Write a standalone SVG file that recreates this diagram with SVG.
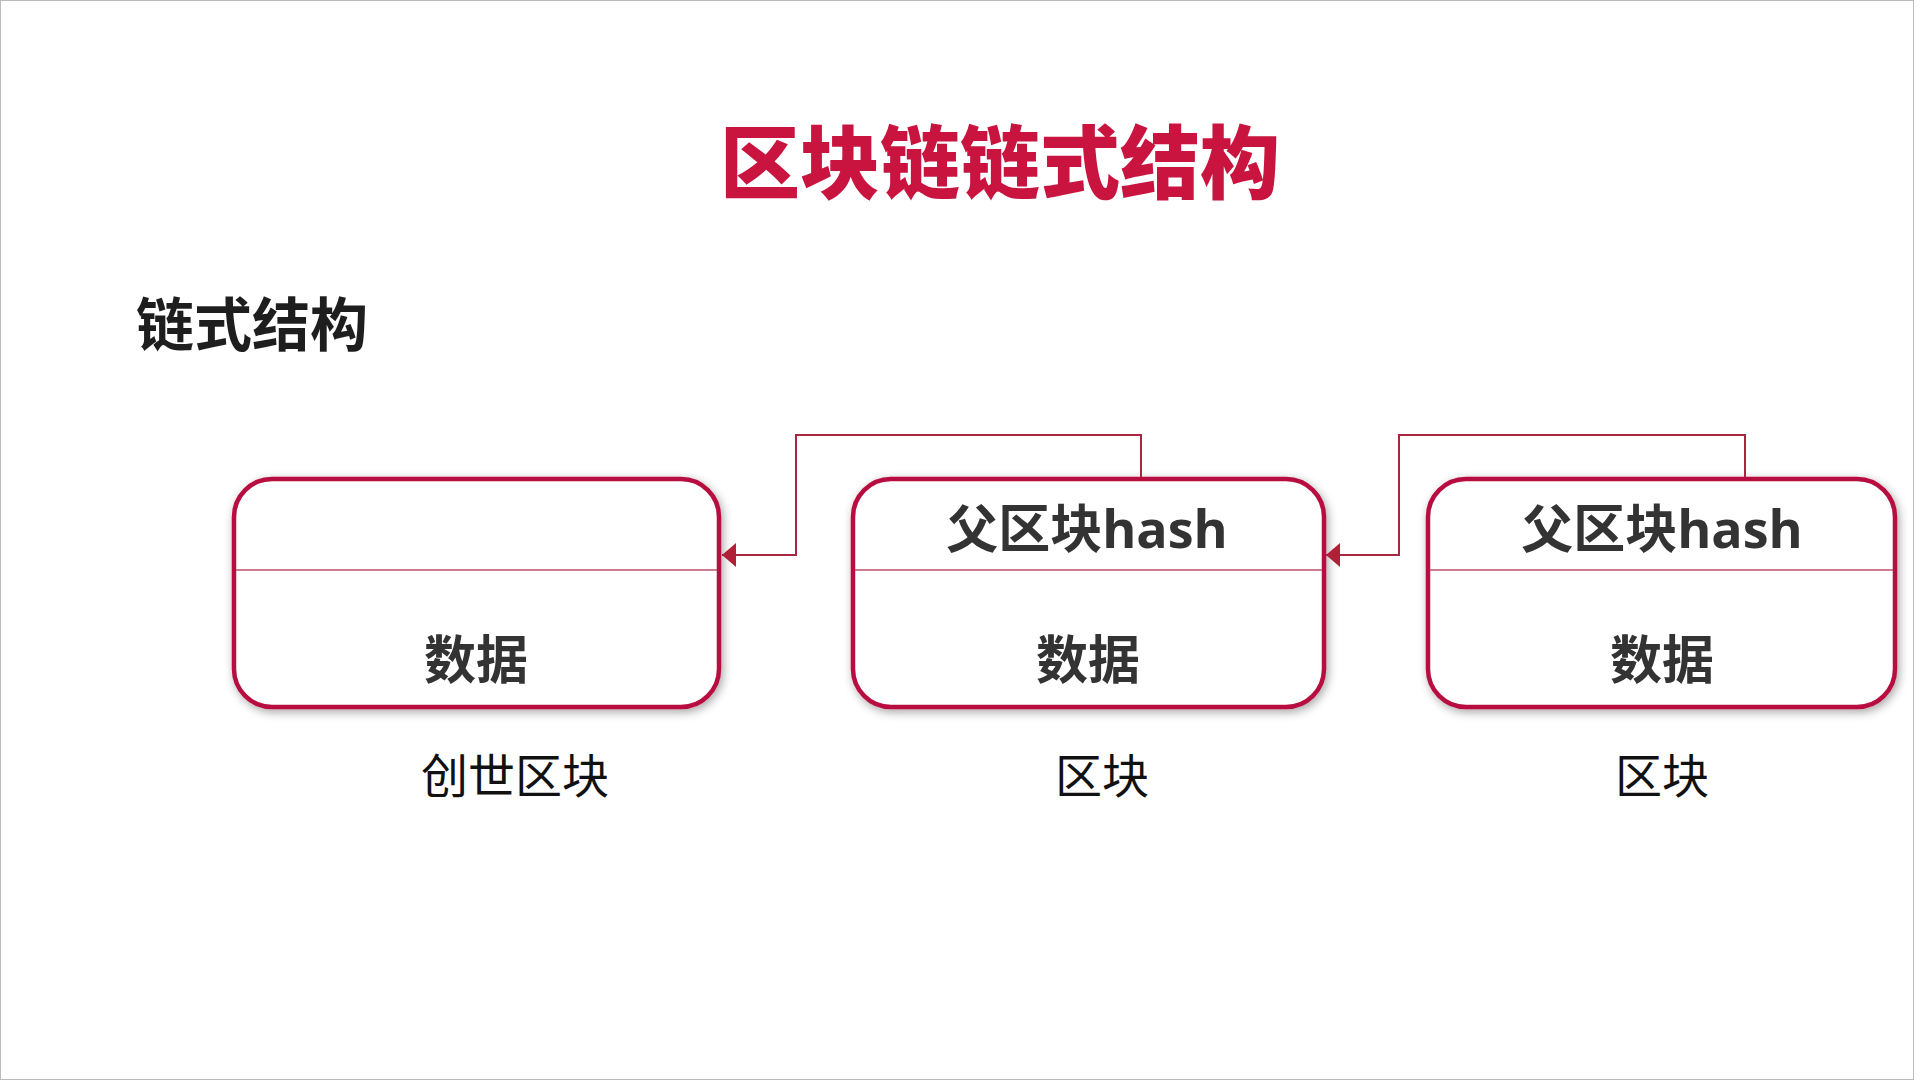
<svg xmlns="http://www.w3.org/2000/svg" width="1920" height="1080" viewBox="0 0 1920 1080">
  <defs>
    <filter id="shadow" x="-10%" y="-20%" width="120%" height="140%">
      <feDropShadow dx="2" dy="3" stdDeviation="5" flood-color="#000" flood-opacity="0.35"/>
    </filter>
    <marker id="arrow" markerUnits="userSpaceOnUse" markerWidth="14" markerHeight="24" refX="14" refY="12" orient="auto" viewBox="0 0 14 24">
      <path d="M0,0 L14,12 L0,24 Z" fill="#b02138"/>
    </marker>
    <style>
      .box { fill: #fff; stroke: #b8103f; stroke-width: 4.5; }
      .div { stroke: #c0506a; stroke-width: 1.5; }
      .conn { fill: none; stroke: #a8263f; stroke-width: 2; }
      .bt { font-family: "Open Sans", "Noto Sans CJK SC", sans-serif; font-weight: 700; font-size: 52px; fill: #333; text-anchor: middle; }
      .lbl { font-family: "Noto Sans CJK SC", sans-serif; font-weight: 400; font-size: 47px; fill: #111; text-anchor: middle; }
    </style>
  </defs>
  <rect x="0" y="0" width="1920" height="1080" fill="#fff"/>
  <rect x="0.5" y="0.5" width="1913" height="1079" fill="none" stroke="#bbb" stroke-width="1"/>

  <g id="title">
    <text x="1000" y="192" font-family="Noto Sans CJK SC, sans-serif" font-weight="900" font-size="80" fill="#c8143f" text-anchor="middle">区块链链式结构</text>
  </g>
  <g id="subtitle">
    <text x="136" y="346" font-family="Noto Sans CJK SC, sans-serif" font-weight="700" font-size="58" fill="#1e1e1e">链式结构</text>
  </g>

  <g id="block-genesis">
    <rect class="box" x="234" y="479" width="485" height="228" rx="38" filter="url(#shadow)"/>
    <line class="div" x1="236" y1="570" x2="717" y2="570"/>
    <text class="bt" x="476" y="679">数据</text>
    <text class="lbl" x="515" y="793">创世区块</text>
  </g>

  <g id="block-2">
    <rect class="box" x="853" y="479" width="471" height="228" rx="38" filter="url(#shadow)"/>
    <line class="div" x1="855" y1="570" x2="1322" y2="570"/>
    <text class="bt" x="1087" y="548">父区块hash</text>
    <text class="bt" x="1088" y="679">数据</text>
    <text class="lbl" x="1102" y="793">区块</text>
  </g>

  <g id="block-3">
    <rect class="box" x="1428" y="479" width="467" height="228" rx="38" filter="url(#shadow)"/>
    <line class="div" x1="1430" y1="570" x2="1893" y2="570"/>
    <text class="bt" x="1662" y="548">父区块hash</text>
    <text class="bt" x="1662" y="679">数据</text>
    <text class="lbl" x="1662" y="793">区块</text>
  </g>

  <g id="connectors">
    <path class="conn" d="M1141,477 V435 H796 V555 H722" marker-end="url(#arrow)"/>
    <path class="conn" d="M1745,477 V435 H1399 V555 H1326" marker-end="url(#arrow)"/>
  </g>
</svg>
